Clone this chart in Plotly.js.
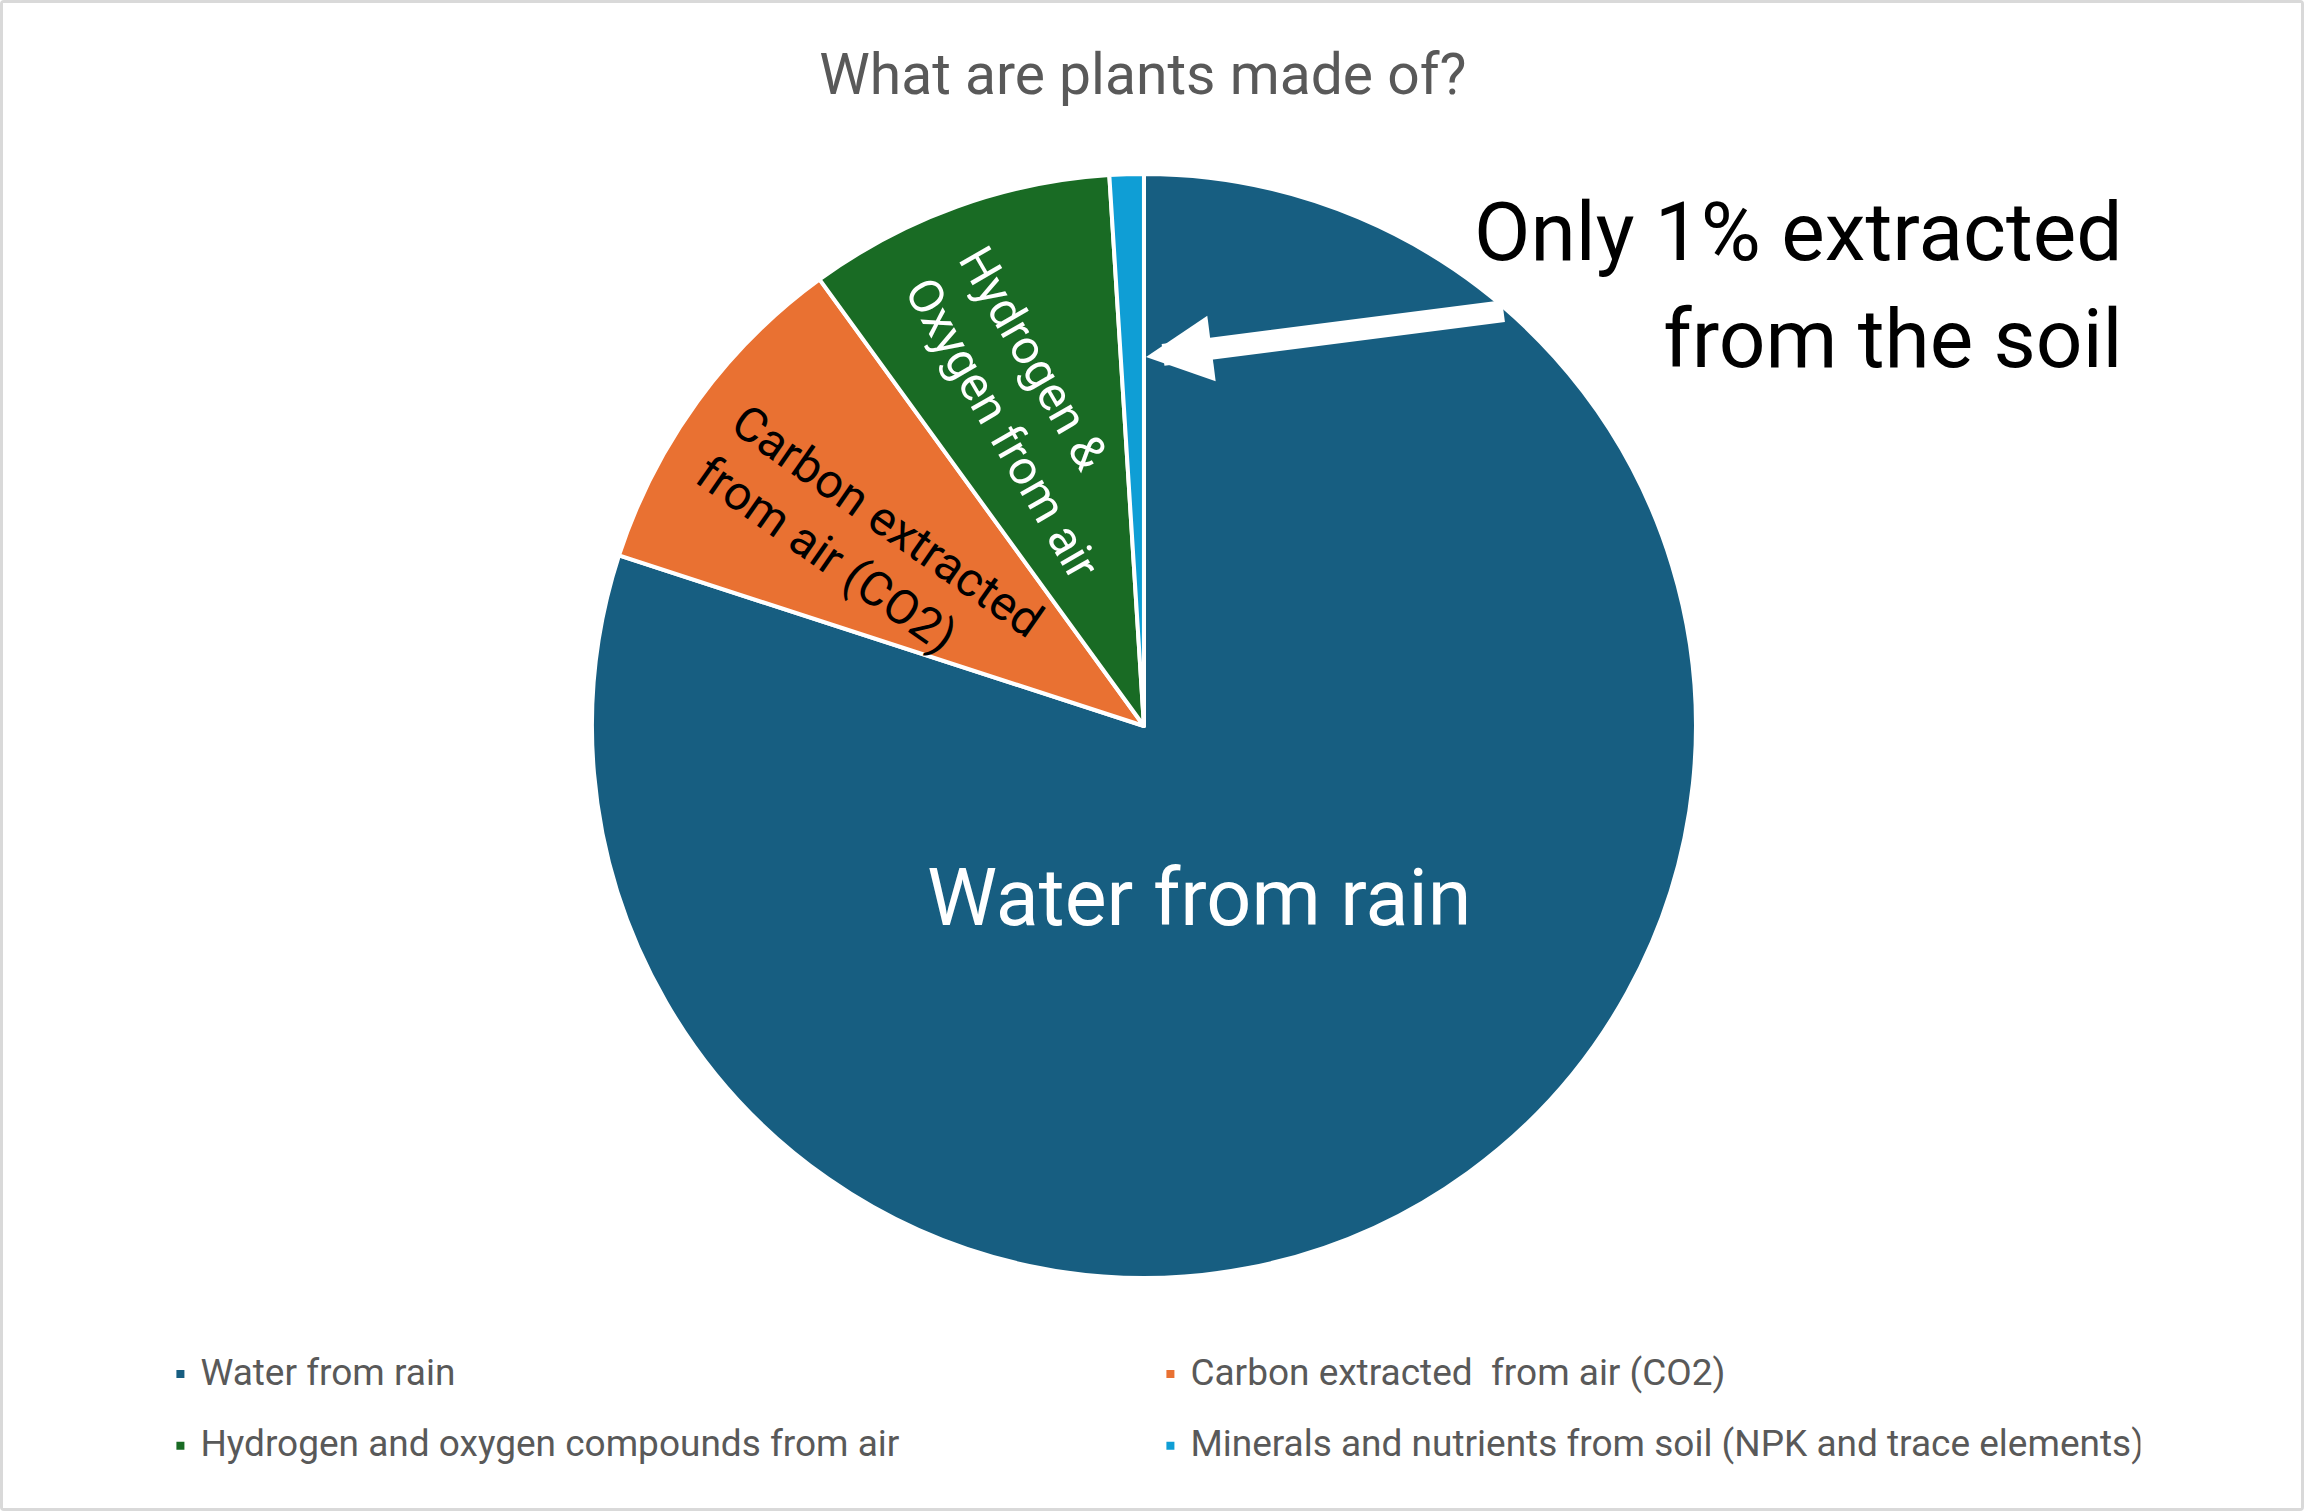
<!DOCTYPE html>
<html>
<head>
<meta charset="utf-8">
<script src="https://cdn.plot.ly/plotly-3.0.1.min.js"></script>
<style>
  body { margin: 0; background: #fff; }
  #chart { width: 2298px; height: 1505px; border: 3px solid #d9d9d9; border-radius: 4px; }
</style>
</head>
<body>
<div id="chart"></div>
<script>
// slices, clockwise from 12 o'clock
let sources = ['Water from rain', 'Carbon extracted  from air (CO2)', 'Hydrogen and oxygen compounds from air', 'Minerals and nutrients from soil (NPK and trace elements)'];
let shares = [80, 10, 9, 1];
let sliceColors = ['#175E81', '#E97132', '#196B24', '#0F9ED5'];

// labels written on the slices
let sliceLabels = ['Water from rain', 'Carbon extracted<br>from air (CO2)', 'Hydrogen &<br>Oxygen from air'];

let w = document.getElementById('chart');

//legend rows are spaced by the legend font size, so the visible text is set smaller (and lifted back onto the marker)
let legendNames = sources.map(s => '<span style="font-size:37px;baseline-shift:10px">' + s + '</span>');

let data = [{
    type: 'pie',
    labels: legendNames,
    values: shares,
    sort: false,
    direction: 'clockwise',
    rotation: 0,
    textinfo: 'none',
    hoverinfo: 'label+percent',
    marker: {
        colors: sliceColors,
        line: {color: '#ffffff', width: 4},
    },
    domain: {x: [0.2563, 0.7367], y: [0.1528, 0.8864]},
}];

let layout = {
    width: 2298,
    height: 1505,
    margin: {l: 0, r: 0, t: 0, b: 0},
    paper_bgcolor: '#ffffff',
    font: {family: 'Roboto, "Liberation Sans", sans-serif', color: '#595959'},
    title: {
        text: 'What are plants made of?',
        font: {size: 57, color: '#595959'},
        x: 0.496, xanchor: 'center',
        y: 0.953, yref: 'container', yanchor: 'middle',
    },
    showlegend: true,
    legend: {
        orientation: 'h',
        x: 0.0685, xanchor: 'left',
        y: 0.1163, yanchor: 'top',
        entrywidth: 945, entrywidthmode: 'pixels',
        font: {size: 53, color: '#595959'},
        traceorder: 'normal',
    },
    annotations: [
        //slice labels
        {text: sliceLabels[0], x: 0.5204, y: 0.4053, xref: 'paper', yref: 'paper', showarrow: false,
         xanchor: 'center', yanchor: 'middle', font: {size: 79, color: '#ffffff'}},
        {text: sliceLabels[1], x: 0.3773, y: 0.6392, xref: 'paper', yref: 'paper', showarrow: false,
         xanchor: 'center', yanchor: 'middle', textangle: 35, align: 'left',
         font: {size: 48, color: '#000000'}},
        {text: sliceLabels[2], x: 0.4465, y: 0.7276, xref: 'paper', yref: 'paper', showarrow: false,
         xanchor: 'center', yanchor: 'middle', textangle: 60, align: 'left',
         font: {size: 48, color: '#ffffff'}},
        //callout
        {text: 'Only 1% extracted<br>from the soil', x: 0.9235, y: 0.812, xref: 'paper', yref: 'paper',
         xanchor: 'right', yanchor: 'middle', align: 'right', showarrow: false,
         font: {size: 82, color: '#000000'}},
        {text: '', x: 0.4974, y: 0.7648, xref: 'paper', yref: 'paper',
         showarrow: true, ax: 359, ay: -46, arrowcolor: '#ffffff', arrowwidth: 22,
         arrowhead: 2, arrowsize: 0.6},
    ],
};

Plotly.newPlot(w, data, layout, {displayModeBar: false});
</script>
</body>
</html>
